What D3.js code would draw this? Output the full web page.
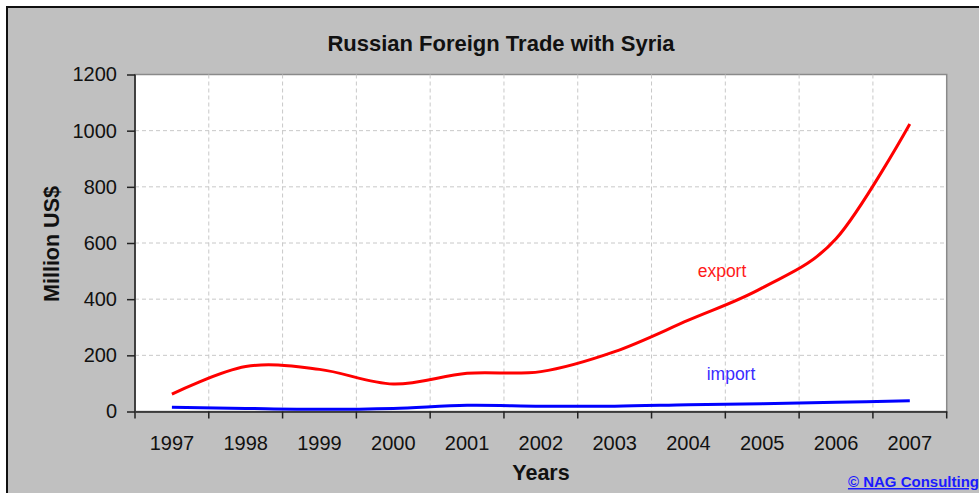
<!DOCTYPE html>
<html>
<head>
<meta charset="utf-8">
<script src="https://cdn.jsdelivr.net/npm/d3@7"></script>
<style>
    body { margin: 0; background: #fff; }
    text { font-family: Arial, "Liberation Sans", sans-serif; }
    .grid line { stroke: #c8c8c8; stroke-width: 1; stroke-dasharray: 4,3; }
    .axis path, .axis line { stroke: #222; stroke-width: 1.5; }
    .axis text { font-size: 20px; fill: #111; }
</style>
</head>
<body>
<svg id="chart"></svg>
<script>
const width = 979;
const height = 493;

const years = ["1997", "1998", "1999", "2000", "2001", "2002", "2003", "2004", "2005", "2006", "2007"];
const exportVals = [62, 160, 150, 98, 136, 142, 213, 325, 440, 615, 1024];
const importVals = [15, 11, 8, 11, 22, 19, 19, 24, 28, 33, 38];
const yTicks = [0, 200, 400, 600, 800, 1000, 1200];

const plot = { left: 135, right: 946.7, top: 74.5, bottom: 411.5 };

const svg = d3.select("#chart")
    .attr("width", width)
    .attr("height", height);

// Frame: white margin, black border, gray background
svg.append("rect")
    .attr("x", 7).attr("y", 7)
    .attr("width", width).attr("height", height)
    .attr("fill", "#c0c0c0")
    .attr("stroke", "#111")
    .attr("stroke-width", 2);

const x = d3.scaleBand()
    .domain(years)
    .range([plot.left, plot.right]);

const y = d3.scaleLinear()
    .domain([0, 1200])
    .range([plot.bottom, plot.top]);

const cx = d => x(d) + x.bandwidth() / 2;

// Plot area
svg.append("rect")
    .attr("x", plot.left).attr("y", plot.top)
    .attr("width", plot.right - plot.left)
    .attr("height", plot.bottom - plot.top)
    .attr("fill", "#fff")
    .attr("stroke", "#8a8a8a")
    .attr("stroke-width", 1.5);

// Grid lines
const grid = svg.append("g").attr("class", "grid");
grid.selectAll(".hgrid")
    .data(yTicks.slice(1, -1))
    .enter()
    .append("line")
    .attr("x1", plot.left).attr("x2", plot.right)
    .attr("y1", d => y(d)).attr("y2", d => y(d));
grid.selectAll(".vgrid")
    .data(years.slice(1))
    .enter()
    .append("line")
    .attr("x1", d => x(d)).attr("x2", d => x(d))
    .attr("y1", plot.top).attr("y2", plot.bottom);

// Axes
svg.append("g")
    .attr("class", "axis")
    .attr("transform", `translate(${plot.left},0)`)
    .call(d3.axisLeft(y).tickValues(yTicks).tickFormat(d3.format("d")).tickSize(8).tickPadding(10).tickSizeOuter(0))
    .call(g => g.select(".domain").attr("d", `M0,${plot.top}V${plot.bottom}`));

const xAxis = svg.append("g")
    .attr("class", "axis")
    .attr("transform", `translate(0,${plot.bottom})`)
    .call(d3.axisBottom(x).tickSize(0).tickPadding(24).tickSizeOuter(0));

// ticks on the band edges
xAxis.selectAll(".edge")
    .data(years.concat(["end"]))
    .enter()
    .append("line")
    .attr("x1", (d, i) => i < years.length ? x(d) : plot.right)
    .attr("x2", (d, i) => i < years.length ? x(d) : plot.right)
    .attr("y1", 0).attr("y2", 7);

// Lines
const line = vals => d3.line()
    .x((d, i) => cx(years[i]))
    .y(d => y(d))
    .curve(d3.curveCardinal.tension(0))(vals);

svg.append("path")
    .attr("d", line(exportVals))
    .attr("fill", "none")
    .attr("stroke", "#ff0000")
    .attr("stroke-width", 3);

svg.append("path")
    .attr("d", line(importVals))
    .attr("fill", "none")
    .attr("stroke", "#0000ff")
    .attr("stroke-width", 3);

// Series labels
svg.append("text")
    .attr("x", 722).attr("y", 277)
    .attr("text-anchor", "middle")
    .attr("font-size", 17.5)
    .attr("fill", "#ff1a1a")
    .text("export");

svg.append("text")
    .attr("x", 731).attr("y", 380)
    .attr("text-anchor", "middle")
    .attr("font-size", 17.5)
    .attr("fill", "#3a2cff")
    .text("import");

// Titles
svg.append("text")
    .attr("x", 501).attr("y", 51)
    .attr("text-anchor", "middle")
    .attr("font-size", 22)
    .attr("font-weight", "bold")
    .attr("fill", "#111")
    .text("Russian Foreign Trade with Syria");

svg.append("text")
    .attr("transform", "translate(59,244) rotate(-90)")
    .attr("text-anchor", "middle")
    .attr("font-size", 21.5)
    .attr("font-weight", "bold")
    .attr("fill", "#111")
    .text("Million US$");

svg.append("text")
    .attr("x", 541).attr("y", 480)
    .attr("text-anchor", "middle")
    .attr("font-size", 21.5)
    .attr("font-weight", "bold")
    .attr("fill", "#111")
    .text("Years");

svg.append("text")
    .attr("x", 979).attr("y", 487)
    .attr("text-anchor", "end")
    .attr("font-size", 15)
    .attr("font-weight", "bold")
    .attr("fill", "#1a1aff")
    .attr("text-decoration", "underline")
    .text("© NAG Consulting");
</script>
</body>
</html>
